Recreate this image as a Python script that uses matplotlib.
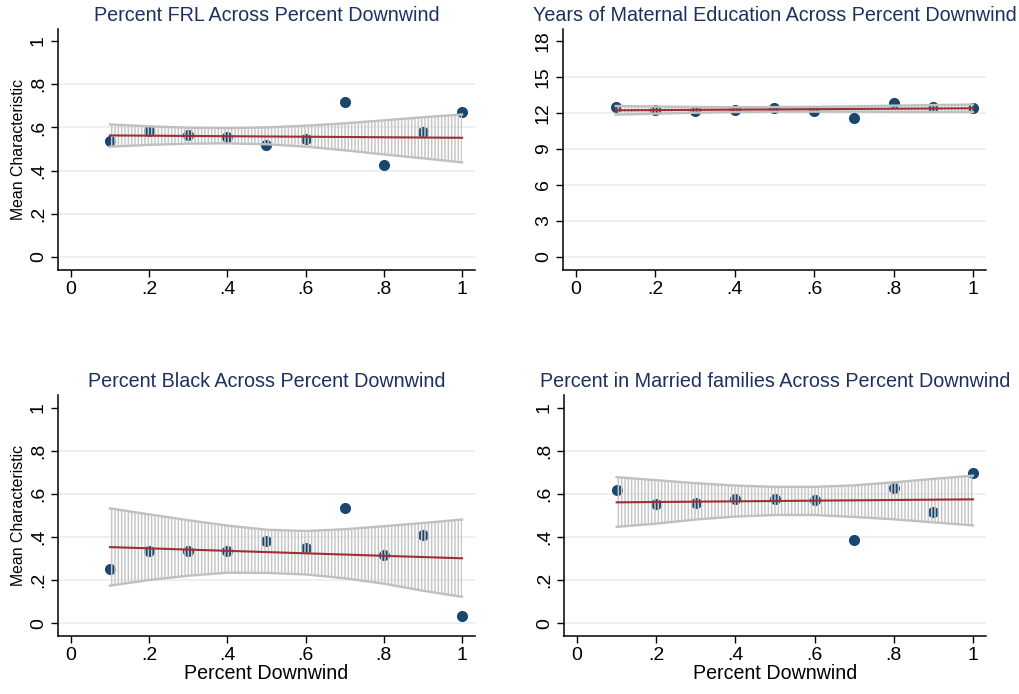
import numpy as np
import matplotlib.pyplot as plt

plt.rcParams['font.family'] = ['Liberation Sans', 'DejaVu Sans']
plt.rcParams['hatch.color'] = '#c6c6c6'
plt.rcParams['hatch.linewidth'] = 1.1

## data (binned means, linear fit ends, 95% CI)

pct_down = np.array([0.1, 0.2, 0.3, 0.4, 0.5, 0.6, 0.7, 0.8, 0.9, 1.0])

frl_mean = [0.539, 0.583, 0.566, 0.557, 0.519, 0.546, 0.719, 0.426, 0.579, 0.670]
frl_fit = [0.563, 0.552]
frl_ci_hi = [0.614, 0.605, 0.599, 0.597, 0.600, 0.608, 0.619, 0.633, 0.647, 0.660]
frl_ci_lo = [0.511, 0.519, 0.525, 0.526, 0.522, 0.511, 0.494, 0.475, 0.457, 0.438]

educ_mean = [12.50, 12.25, 12.17, 12.28, 12.44, 12.17, 11.56, 12.83, 12.50, 12.39]
educ_fit = [12.22, 12.39]
educ_ci_hi = [12.58, 12.54, 12.50, 12.48, 12.49, 12.51, 12.55, 12.61, 12.66, 12.70]
educ_ci_lo = [11.86, 11.94, 12.02, 12.08, 12.11, 12.11, 12.11, 12.09, 12.08, 12.08]

black_mean = [0.251, 0.335, 0.336, 0.335, 0.380, 0.347, 0.533, 0.318, 0.409, 0.034]
black_fit = [0.353, 0.301]
black_ci_hi = [0.533, 0.505, 0.478, 0.453, 0.434, 0.428, 0.436, 0.450, 0.465, 0.481]
black_ci_lo = [0.174, 0.200, 0.220, 0.234, 0.233, 0.226, 0.208, 0.183, 0.150, 0.122]

married_mean = [0.620, 0.553, 0.560, 0.577, 0.575, 0.571, 0.384, 0.629, 0.515, 0.698]
married_fit = [0.561, 0.575]
married_ci_hi = [0.678, 0.664, 0.650, 0.639, 0.633, 0.633, 0.640, 0.654, 0.670, 0.685]
married_ci_lo = [0.447, 0.462, 0.481, 0.495, 0.502, 0.502, 0.493, 0.482, 0.468, 0.454]

x_ticks = [0, 0.2, 0.4, 0.6, 0.8, 1]
x_labels = ['0', '.2', '.4', '.6', '.8', '1']
share_ticks = [0, 0.2, 0.4, 0.6, 0.8, 1]
share_labels = ['0', '.2', '.4', '.6', '.8', '1']
educ_ticks = [0, 3, 6, 9, 12, 15, 18]
educ_labels = ['0', '3', '6', '9', '12', '15', '18']

navy = '#1a476f'
maroon = '#9c3035'
title_col = '#1e3060'
grid_col = '#e8f0f2'


def draw_panel(ax, title, means, fit, ci_lo, ci_hi, yticks, ylabels, ylim,
               show_ylabel=False, show_xlabel=False):
    # scatter of bin means sits underneath the CI spikes
    ax.scatter(pct_down, means, s=64, color=navy, zorder=2, linewidths=0)
    ax.fill_between(pct_down, ci_lo, ci_hi, facecolor='none', edgecolor='#c6c6c6',
                    hatch='|||||', linewidth=0, zorder=3)
    ax.plot(pct_down, ci_hi, color='#c0c0c0', lw=1.7, zorder=3)
    ax.plot(pct_down, ci_lo, color='#c0c0c0', lw=1.7, zorder=3)
    ax.plot([pct_down[0], pct_down[-1]], fit, color=maroon, lw=1.5, zorder=4)

    ax.set_xlim(-0.033, 1.033)
    ax.set_ylim(ylim)
    ax.set_xticks(x_ticks)
    ax.set_xticklabels(x_labels, fontsize=14)
    ax.set_yticks(yticks)
    ax.set_yticklabels(ylabels, fontsize=14, rotation=90, va='center')
    ax.tick_params(axis='both', length=5, width=1, pad=3)

    ax.grid(True, axis='y', color=grid_col, lw=1.3, zorder=0)
    ax.get_ygridlines()[-1].set_visible(False)
    ax.set_axisbelow(True)

    ax.spines['top'].set_visible(False)
    ax.spines['right'].set_visible(False)
    ax.spines['left'].set_linewidth(1.1)
    ax.spines['bottom'].set_linewidth(1.1)

    ax.set_title(title, fontsize=14.2, color=title_col, pad=6)
    if show_ylabel:
        ax.set_ylabel('Mean Characteristic', fontsize=11.4, labelpad=3)
    if show_xlabel:
        ax.set_xlabel('Percent Downwind', fontsize=14.1, labelpad=0)


fig = plt.figure(figsize=(10.19, 6.94), dpi=100)

ax1 = fig.add_axes([0.0569, 0.6110, 0.4092, 0.3473])
ax2 = fig.add_axes([0.5525, 0.6110, 0.4151, 0.3473])
ax3 = fig.add_axes([0.0569, 0.0836, 0.4092, 0.3473])
ax4 = fig.add_axes([0.5535, 0.0836, 0.4141, 0.3473])

draw_panel(ax1, 'Percent FRL Across Percent Downwind', frl_mean, frl_fit,
           frl_ci_lo, frl_ci_hi, share_ticks, share_labels, (-0.06, 1.056),
           show_ylabel=True)
draw_panel(ax2, 'Years of Maternal Education Across Percent Downwind', educ_mean, educ_fit,
           educ_ci_lo, educ_ci_hi, educ_ticks, educ_labels, (-1.08, 19.0))
draw_panel(ax3, 'Percent Black Across Percent Downwind', black_mean, black_fit,
           black_ci_lo, black_ci_hi, share_ticks, share_labels, (-0.06, 1.06),
           show_ylabel=True, show_xlabel=True)
draw_panel(ax4, 'Percent in Married families Across Percent Downwind', married_mean, married_fit,
           married_ci_lo, married_ci_hi, share_ticks, share_labels, (-0.06, 1.06),
           show_xlabel=True)

fig.savefig('out.png', dpi=100)
